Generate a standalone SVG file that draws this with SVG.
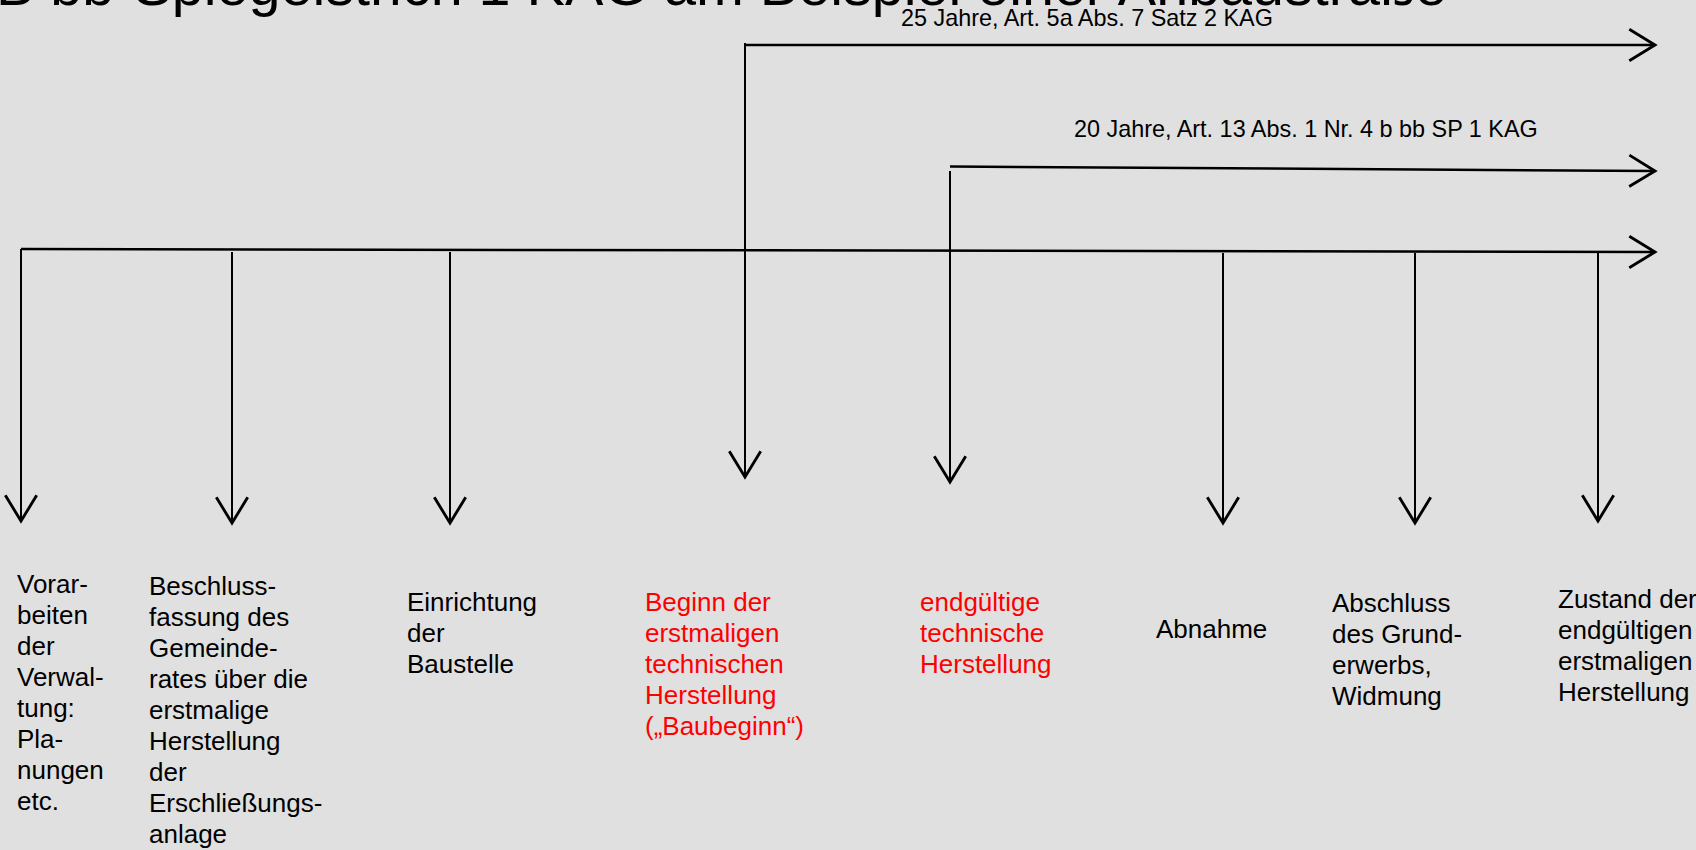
<svg xmlns="http://www.w3.org/2000/svg" width="1696" height="850" viewBox="0 0 1696 850">
  <defs>
    <marker id="open" markerUnits="userSpaceOnUse" markerWidth="40" markerHeight="40" viewBox="-22 -14 26 28" refX="0" refY="0" orient="auto" overflow="visible">
      <path d="M -18 -11 L 0 0 L -18 11" fill="none" stroke="#000" stroke-width="2"/>
    </marker>
  </defs>
  <style>
    .bg { fill: #e0e0e0; }
    .ln { fill: none; stroke: #000; stroke-width: 2; }
    .hl { fill: none; stroke: #000; stroke-width: 2.5; }
    .lbl { font-family: "Liberation Sans", Arial, sans-serif; font-size: 26px; fill: #000; }
    .red { fill: #ff0000; }
    .per { font-family: "Liberation Sans", Arial, sans-serif; font-size: 23.4px; fill: #000; }
    .title { font-family: "Liberation Sans", Arial, sans-serif; font-size: 57.5px; fill: #000; }
  </style>
  <rect class="bg" x="0" y="0" width="1696" height="850"/>

  <g id="title">
    <text class="title" x="-4" y="5">B bb-Spiegelstrich 1 KAG am Beispiel einer Anbaustraße</text>
  </g>

  <g id="connectors">
    <!-- main timeline -->
    <path class="hl" d="M 21 249 L 1655 252" marker-end="url(#open)"/>
    <!-- 25 years -->
    <path class="hl" d="M 745 45 L 1655 45" marker-end="url(#open)"/>
    <!-- 20 years -->
    <path class="hl" d="M 950 166.5 L 1655 171" marker-end="url(#open)"/>
    <!-- down arrows -->
    <path class="ln" d="M 21 249 L 21 521" marker-end="url(#open)"/>
    <path class="ln" d="M 232 252 L 232 523" marker-end="url(#open)"/>
    <path class="ln" d="M 450 252 L 450 523" marker-end="url(#open)"/>
    <path class="ln" d="M 745 43 L 745 477" marker-end="url(#open)"/>
    <path class="ln" d="M 950 171 L 950 482" marker-end="url(#open)"/>
    <path class="ln" d="M 1223 253 L 1223 523" marker-end="url(#open)"/>
    <path class="ln" d="M 1415 253 L 1415 523" marker-end="url(#open)"/>
    <path class="ln" d="M 1598 253 L 1598 521" marker-end="url(#open)"/>
  </g>

  <g id="period25">
    <text class="per" x="901" y="26">25 Jahre, Art. 5a Abs. 7 Satz 2 KAG</text>
  </g>
  <g id="period20">
    <text class="per" x="1074" y="137">20 Jahre, Art. 13 Abs. 1 Nr. 4 b bb SP 1 KAG</text>
  </g>

  <g id="n1">
    <text class="lbl">
      <tspan x="17" y="593">Vorar-</tspan>
      <tspan x="17" y="624">beiten</tspan>
      <tspan x="17" y="655">der</tspan>
      <tspan x="17" y="686">Verwal-</tspan>
      <tspan x="17" y="717">tung:</tspan>
      <tspan x="17" y="748">Pla-</tspan>
      <tspan x="17" y="779">nungen</tspan>
      <tspan x="17" y="810">etc.</tspan>
    </text>
  </g>
  <g id="n2">
    <text class="lbl">
      <tspan x="149" y="595">Beschluss-</tspan>
      <tspan x="149" y="626">fassung des</tspan>
      <tspan x="149" y="657">Gemeinde-</tspan>
      <tspan x="149" y="688">rates über die</tspan>
      <tspan x="149" y="719">erstmalige</tspan>
      <tspan x="149" y="750">Herstellung</tspan>
      <tspan x="149" y="781">der</tspan>
      <tspan x="149" y="812">Erschließungs-</tspan>
      <tspan x="149" y="843">anlage</tspan>
    </text>
  </g>
  <g id="n3">
    <text class="lbl">
      <tspan x="407" y="611">Einrichtung</tspan>
      <tspan x="407" y="642">der</tspan>
      <tspan x="407" y="673">Baustelle</tspan>
    </text>
  </g>
  <g id="n4">
    <text class="lbl red">
      <tspan x="645" y="611">Beginn der</tspan>
      <tspan x="645" y="642">erstmaligen</tspan>
      <tspan x="645" y="673">technischen</tspan>
      <tspan x="645" y="704">Herstellung</tspan>
      <tspan x="645" y="735">(„Baubeginn“)</tspan>
    </text>
  </g>
  <g id="n5">
    <text class="lbl red">
      <tspan x="920" y="611">endgültige</tspan>
      <tspan x="920" y="642">technische</tspan>
      <tspan x="920" y="673">Herstellung</tspan>
    </text>
  </g>
  <g id="n6">
    <text class="lbl" x="1156" y="638">Abnahme</text>
  </g>
  <g id="n7">
    <text class="lbl">
      <tspan x="1332" y="612">Abschluss</tspan>
      <tspan x="1332" y="643">des Grund-</tspan>
      <tspan x="1332" y="674">erwerbs,</tspan>
      <tspan x="1332" y="705">Widmung</tspan>
    </text>
  </g>
  <g id="n8">
    <text class="lbl">
      <tspan x="1558" y="608">Zustand der</tspan>
      <tspan x="1558" y="639">endgültigen</tspan>
      <tspan x="1558" y="670">erstmaligen</tspan>
      <tspan x="1558" y="701">Herstellung</tspan>
    </text>
  </g>
</svg>
